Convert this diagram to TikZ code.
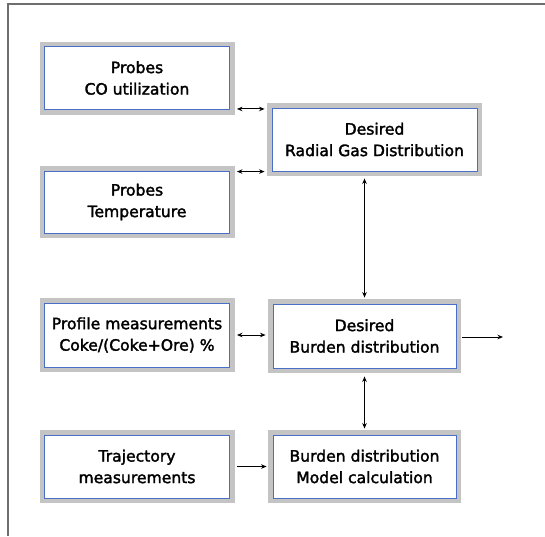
\documentclass[tikz,border=0pt]{standalone}
\usepackage{fontspec}
\setmainfont{DejaVu Sans}
\newfontfamily\boxfont{DejaVu Sans}[BoldFont=DejaVu Sans, BoldFeatures={FakeBold=2}]
\usetikzlibrary{arrows.meta}
\definecolor{boxblue}{HTML}{4A6FC8}
\definecolor{boxgray}{HTML}{C4C4C4}
\definecolor{framegray}{HTML}{6E6E6E}
\begin{document}
\begin{tikzpicture}[x=1pt,y=1pt,
  box/.style={draw=boxblue, line width=0.9pt, fill=white,
    preaction={draw=boxgray, line width=10pt},
    minimum height=63pt, align=center, inner sep=0pt,
    font=\boxfont\bfseries\fontsize{15.6}{21.5}\selectfont},
  conn/.style={line width=1pt, {Stealth[length=5.5pt,width=4.5pt]}-{Stealth[length=5.5pt,width=4.5pt]}},
  oneway/.style={line width=1pt, -{Stealth[length=5.5pt,width=4.5pt]}}]
\useasboundingbox (0,0) rectangle (545,-536);
\draw[framegray, line width=1.2pt] (545,-4) -- (8,-4) -- (8,-536);
\node[box, minimum width=185pt] (B1) at (137,-78) {Probes\\CO utilization};
\node[box, minimum width=205pt] (B2) at (374.5,-139.5) {Desired\\Radial Gas Distribution};
\node[box, minimum width=185pt, minimum height=62pt] (B3) at (137,-202) {Probes\\Temperature};
\node[box, minimum width=185pt, minimum height=64pt] (B4) at (137,-335) {Profile measurements\\Coke/(Coke+Ore) \%};
\node[box, minimum width=183pt, minimum height=64pt] (B5) at (364.5,-336) {Desired\\Burden distribution};
\node[box, minimum width=185pt] (B6) at (137,-466.5) {Trajectory\\measurements};
\node[box, minimum width=183pt] (B7) at (364.5,-466.5) {Burden distribution\\Model calculation};
\coordinate (out) at (503,-337);
\draw[conn] ([xshift=7pt,yshift=1pt]B1.south east) -- ([xshift=-7pt,yshift=1pt]B2.west |- B1.south east);
\draw[conn] ([xshift=7pt,yshift=-1pt]B3.north east) -- ([xshift=-7pt,yshift=-1pt]B2.west |- B3.north east);
\draw[conn] ([yshift=-7pt]B2.south -| B5.north) -- ([yshift=6pt]B5.north);
\draw[conn] ([xshift=7pt]B4.east) -- ([xshift=-7pt]B5.west |- B4.east);
\draw[oneway] ([xshift=6pt,yshift=-1pt]B5.east) -- (out);
\draw[conn] ([yshift=-8pt]B5.south) -- ([yshift=6pt]B7.north);
\draw[oneway] ([xshift=7pt]B6.east) -- ([xshift=-6pt]B7.west);
\end{tikzpicture}
\end{document}
